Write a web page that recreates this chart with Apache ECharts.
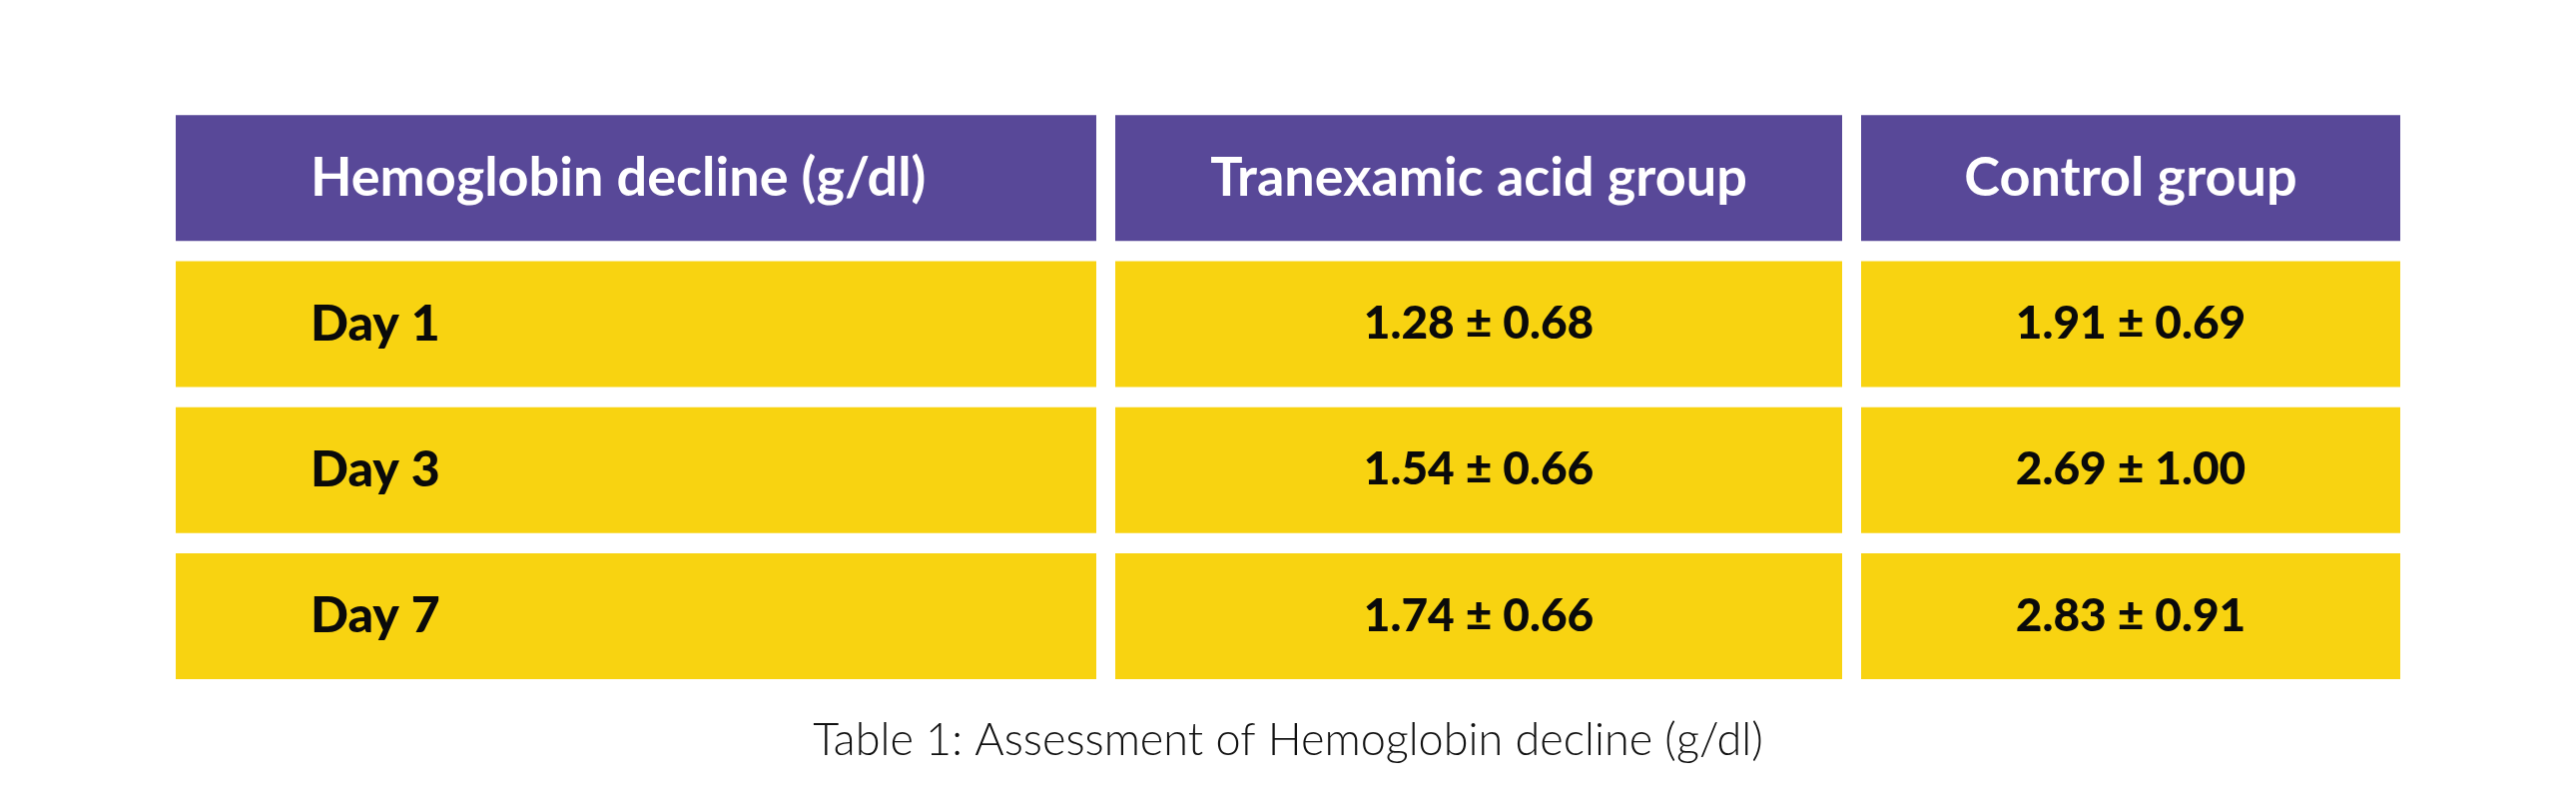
<!DOCTYPE html>
<html>
<head>
<meta charset="utf-8">
<script src="https://cdn.jsdelivr.net/npm/echarts@6/dist/echarts.min.js"></script>
<style>
html,body{margin:0;padding:0;background:#fff;}
#c{width:2580px;height:810px;}
</style>
</head>
<body>
<div id="c"></div>
<script>
// ---- data ----
const columnHeaders = ['Hemoglobin decline (g/dl)', 'Tranexamic acid group', 'Control group'];
const rowLabels = ['Day 1', 'Day 3', 'Day 7'];
const tranexamicMean = [1.28, 1.54, 1.74];
const tranexamicSD = [0.68, 0.66, 0.66];
const controlMean = [1.91, 2.69, 2.83];
const controlSD = [0.69, 1.00, 0.91];
const captionText = 'Table 1: Assessment of Hemoglobin decline (g/dl)';

// ---- build ----
const rowCats = ['header'].concat(rowLabels);
const fmt = (m, s) => m.toFixed(2) + ' \u00B1 ' + s.toFixed(2);
const colTexts = [
  [columnHeaders[0]].concat(rowLabels),
  [columnHeaders[1]].concat(tranexamicMean.map((m, i) => fmt(m, tranexamicSD[i]))),
  [columnHeaders[2]].concat(controlMean.map((m, i) => fmt(m, controlSD[i])))
];

const PURPLE = '#584898';
const YELLOW = '#F8D311';
const FONT = 'Lato, "Open Sans", sans-serif';

const gridDefs = [
  { left: 176, width: 922, align: 'left', pad: 135 },
  { left: 1117, width: 728, align: 'center' },
  { left: 1864, width: 540, align: 'center' }
];

const grids = [], xAxes = [], yAxes = [], series = [];
gridDefs.forEach((g, gi) => {
  grids.push({ left: g.left, width: g.width, top: 105, height: 585, containLabel: false });
  xAxes.push({ type: 'value', gridIndex: gi, min: 0, max: 1, show: false });
  yAxes.push({ type: 'category', gridIndex: gi, data: rowCats, inverse: true, show: false });
  const texts = colTexts[gi];
  series.push({
    type: 'custom',
    xAxisIndex: gi,
    yAxisIndex: gi,
    clip: false,
    silent: true,
    data: rowCats.map((c, ri) => [0, ri]),
    encode: { x: 0, y: 1 },
    renderItem: function (params, api) {
      const ri = api.value(1);
      const p0 = api.coord([0, ri]);
      const p1 = api.coord([1, ri]);
      const band = api.size([0, 1])[1];
      const cellH = band * 126 / 146.25;
      const isHeader = ri === 0;
      const txt = texts[params.dataIndex];
      const tx = g.align === 'left' ? p0[0] + g.pad : (p0[0] + p1[0]) / 2;
      let fontSize = isHeader ? 54 : (gi === 0 ? 50 : 46);
      return {
        type: 'group',
        children: [
          {
            type: 'rect',
            shape: { x: p0[0], y: p0[1] - cellH / 2, width: p1[0] - p0[0], height: cellH },
            style: { fill: isHeader ? PURPLE : YELLOW }
          },
          {
            type: 'text',
            style: {
              text: txt,
              x: tx,
              y: p0[1],
              fill: isHeader ? '#ffffff' : '#0a0a0a',
              font: (isHeader ? '700 ' : '900 ') + fontSize + 'px ' + FONT,
              align: g.align,
              verticalAlign: 'middle'
            }
          }
        ]
      };
    }
  });
});

const chart = echarts.init(document.getElementById('c'), null, { renderer: 'canvas' });
chart.setOption({
  backgroundColor: '#ffffff',
  animation: false,
  title: {
    text: captionText,
    left: 'center',
    top: 714,
    textStyle: { fontFamily: FONT, fontWeight: 300, fontSize: 45, color: '#111111' }
  },
  grid: grids,
  xAxis: xAxes,
  yAxis: yAxes,
  series: series
});
</script>
</body>
</html>
